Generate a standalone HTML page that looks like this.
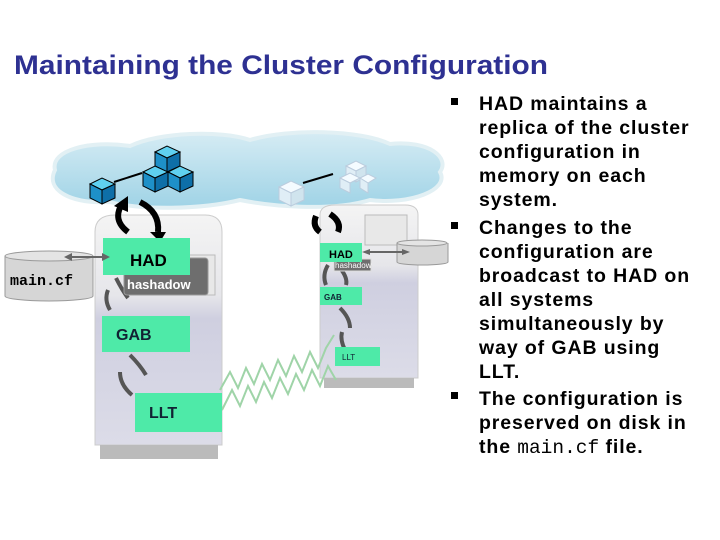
<!DOCTYPE html>
<html><head><meta charset="utf-8"><style>
html,body{margin:0;padding:0;background:#fff;}
svg{display:block}
.t{font-family:"Liberation Sans",Arial,sans-serif;font-weight:bold;font-size:19.5px;letter-spacing:0.9px;fill:#000}
.m{font-family:"Liberation Mono",monospace;font-weight:normal;letter-spacing:0}
</style></head><body>
<svg width="720" height="540" viewBox="0 0 720 540" xmlns="http://www.w3.org/2000/svg">
<defs>
<linearGradient id="srv" x1="0" y1="0" x2="0" y2="1">
<stop offset="0" stop-color="#f4f4f4"/><stop offset="0.35" stop-color="#e6e6ea"/><stop offset="0.45" stop-color="#cfcfe0"/><stop offset="1" stop-color="#dcdce8"/>
</linearGradient>
<linearGradient id="cl" x1="0" y1="0" x2="0" y2="1">
<stop offset="0" stop-color="#d6ecf4"/><stop offset="1" stop-color="#9fd3e6"/>
</linearGradient>
</defs>
<text x="14" y="74" textLength="534" lengthAdjust="spacingAndGlyphs" style="font-family:'Liberation Sans',Arial,sans-serif;font-weight:bold;font-size:27px;fill:#2e3192">Maintaining the Cluster Configuration</text>

<path d="M55,170 C50,150 90,140 130,146 C160,132 220,130 250,140 C290,128 360,130 390,144 C430,140 450,158 440,172 C450,190 410,205 370,200 C330,212 270,206 240,200 C200,210 140,210 110,202 C70,204 45,190 55,170Z" fill="url(#cl)" stroke="#e2f0f4" stroke-width="4"/>
<g stroke="#000" stroke-width="1">
<polygon points="90,184 102,178 115,184 102,190" fill="#5fd0f0"/><polygon points="90,184 102,190 102,204 90,198" fill="#1e90c8"/><polygon points="102,190 115,184 115,198 102,204" fill="#0e6fa8"/>
<polygon points="155,152 167,146 180,152 167,158" fill="#5fd0f0"/><polygon points="155,152 167,158 167,172 155,166" fill="#1e90c8"/><polygon points="167,158 180,152 180,166 167,172" fill="#0e6fa8"/>
<polygon points="143,172 155,166 168,172 155,178" fill="#5fd0f0"/><polygon points="143,172 155,178 155,192 143,186" fill="#1e90c8"/><polygon points="155,178 168,172 168,186 155,192" fill="#0e6fa8"/>
<polygon points="168,172 180,166 193,172 180,178" fill="#5fd0f0"/><polygon points="168,172 180,178 180,192 168,186" fill="#1e90c8"/><polygon points="180,178 193,172 193,186 180,192" fill="#0e6fa8"/>
</g>
<line x1="114" y1="182" x2="142" y2="173" stroke="#000" stroke-width="2"/>
<g stroke="#bcd" stroke-width="1">
<polygon points="279,187 291,181 304,187 291,193" fill="#f4fbff"/><polygon points="279,187 291,193 291,206 279,200" fill="#e0eef6"/><polygon points="291,193 304,187 304,200 291,206" fill="#d0e4ee"/>
<polygon points="346,166 356,161 366,166 356,171" fill="#f4fbff"/><polygon points="346,166 356,171 356,182 346,177" fill="#e0eef6"/><polygon points="356,171 366,166 366,177 356,182" fill="#d0e4ee"/>
<polygon points="340,178 350,173 360,178 350,183" fill="#f4fbff"/><polygon points="340,178 350,183 350,193 340,188" fill="#e0eef6"/>
<polygon points="360,178 368,174 376,178 368,183" fill="#f4fbff"/><polygon points="360,178 368,183 368,193 360,188" fill="#e0eef6"/>
</g>
<line x1="303" y1="183" x2="333" y2="174" stroke="#000" stroke-width="2"/>

<path d="M95,232 Q95,215 115,215 L205,215 Q222,215 222,232 L222,445 L95,445Z" fill="url(#srv)" stroke="#ccc"/>
<rect x="100" y="445" width="118" height="14" fill="#bbb"/>
<rect x="165" y="255" width="50" height="40" fill="#e8e8e8" stroke="#bbb"/>
<path d="M320,215 Q320,205 335,205 L405,205 Q418,205 418,215 L418,378 L320,378Z" fill="url(#srv)" stroke="#ccc"/>
<rect x="324" y="378" width="90" height="10" fill="#bbb"/>
<rect x="365" y="215" width="42" height="30" fill="#e8e8e8" stroke="#bbb"/>

<polyline points="220,390 230,372 238,388 246,368 254,384 262,364 270,380 278,360 286,376 294,356 302,372 310,352 318,368 326,348 334,335" fill="none" stroke="#9fd4a8" stroke-width="2"/>
<polyline points="222,410 232,390 240,406 248,386 256,402 264,382 272,398 280,378 288,394 296,374 304,390 312,370 320,386 328,366 336,380" fill="none" stroke="#9fd4a8" stroke-width="2"/>

<g fill="none" stroke="#000" stroke-width="6">
<path d="M128,232 Q112,220 122,204"/><path d="M140,202 Q160,212 158,232"/>
<path d="M320,232 Q312,226 316,216"/><path d="M330,214 Q342,222 338,232"/>
</g>
<g fill="#000"><polygon points="114,206 128,196 128,212"/><polygon points="150,232 166,232 160,242"/></g>
<g fill="none" stroke="#555" stroke-width="4">
<path d="M116,278 Q122,290 128,298"/><path d="M110,310 Q104,300 108,290"/>
<path d="M130,355 Q140,365 146,375"/><path d="M132,395 Q120,385 120,372"/>
<path d="M328,265 Q322,275 326,285"/><path d="M340,268 Q348,278 346,285"/>
<path d="M340,308 Q350,318 350,328"/><path d="M345,350 Q340,340 342,332"/>
</g>

<rect x="124" y="258" width="84" height="37" rx="3" fill="#6e6e6e" stroke="#999"/>
<text x="127" y="289" style="font-family:'Liberation Sans',sans-serif;font-weight:bold;font-size:13px;fill:#fff">hashadow</text>
<rect x="103" y="238" width="87" height="37" fill="#4eeaa8"/>
<text x="130" y="266" style="font-family:'Liberation Sans',sans-serif;font-weight:bold;font-size:17px;fill:#000">HAD</text>
<rect x="102" y="316" width="88" height="36" fill="#4eeaa8"/>
<text x="116" y="340" style="font-family:'Liberation Sans',sans-serif;font-weight:bold;font-size:16px;fill:#123">GAB</text>
<rect x="135" y="393" width="87" height="39" fill="#4eeaa8"/>
<text x="149" y="418" style="font-family:'Liberation Sans',sans-serif;font-weight:bold;font-size:16px;fill:#123">LLT</text>

<path d="M5,256 L5,296 A44,5 0 0 0 93,296 L93,256" fill="#d6d6d6" stroke="#999"/>
<ellipse cx="49" cy="256" rx="44" ry="5" fill="#e4e4e4" stroke="#999"/>
<text x="10" y="285" style="font-family:'Liberation Mono',monospace;font-weight:bold;font-size:15px;fill:#000">main.cf</text>
<line x1="70" y1="257" x2="106" y2="257" stroke="#666" stroke-width="2"/>
<polygon points="64,257 72,253 72,261" fill="#666"/><polygon points="110,257 102,253 102,261" fill="#666"/>

<rect x="334" y="259" width="37" height="12" fill="#6e6e6e" stroke="#ddd"/>
<text x="335" y="268" style="font-family:'Liberation Sans',sans-serif;font-size:8px;fill:#fff">hashadow</text>
<rect x="320" y="243" width="42" height="19" fill="#4eeaa8"/>
<text x="329" y="258" style="font-family:'Liberation Sans',sans-serif;font-weight:bold;font-size:11px;fill:#000">HAD</text>
<rect x="320" y="287" width="42" height="18" fill="#4eeaa8"/>
<text x="324" y="300" style="font-family:'Liberation Sans',sans-serif;font-weight:bold;font-size:8px;fill:#123">GAB</text>
<rect x="335" y="347" width="45" height="19" fill="#4eeaa8"/>
<text x="342" y="360" style="font-family:'Liberation Sans',sans-serif;font-size:8px;fill:#123">LLT</text>
<path d="M397,243 L397,262 A25,3 0 0 0 448,262 L448,243" fill="#d6d6d6" stroke="#999"/>
<ellipse cx="422" cy="243" rx="25" ry="3" fill="#e4e4e4" stroke="#999"/>
<line x1="366" y1="252" x2="404" y2="252" stroke="#666" stroke-width="2"/>
<polygon points="362,252 370,249 370,255" fill="#666"/><polygon points="410,252 402,249 402,255" fill="#666"/>

<g fill="#000"><rect x="451" y="98" width="7" height="7"/><rect x="451" y="222" width="7" height="7"/><rect x="451" y="392" width="7" height="7"/></g>
<text class="t" x="479" y="110">HAD maintains a</text>
<text class="t" x="479" y="134">replica of the cluster</text>
<text class="t" x="479" y="158">configuration in</text>
<text class="t" x="479" y="182">memory on each</text>
<text class="t" x="479" y="206">system.</text>
<text class="t" x="479" y="234">Changes to the</text>
<text class="t" x="479" y="258">configuration are</text>
<text class="t" x="479" y="282">broadcast to HAD on</text>
<text class="t" x="479" y="306">all systems</text>
<text class="t" x="479" y="330">simultaneously by</text>
<text class="t" x="479" y="354">way of GAB using</text>
<text class="t" x="479" y="378">LLT.</text>
<text class="t" x="479" y="405">The configuration is</text>
<text class="t" x="479" y="429">preserved on disk in</text>
<text class="t" x="479" y="453">the <tspan class="m">main.cf</tspan> file.</text>
</svg>
</body></html>
